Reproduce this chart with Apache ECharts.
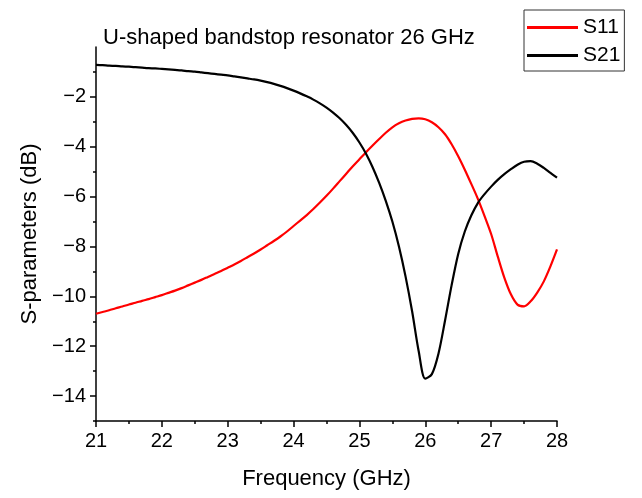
<!DOCTYPE html>
<html><head><meta charset="utf-8">
<script src="https://cdn.jsdelivr.net/npm/echarts@6/dist/echarts.min.js"></script>
<style>html,body{margin:0;padding:0;background:#fff}#c{width:642px;height:498px}</style>
</head><body><div id="c"></div>
<script>
const freq = [21.0,21.1,21.2,21.3,21.4,21.5,21.6,21.7,21.8,21.9,
  22.0,22.1,22.2,22.3,22.4,22.5,22.6,22.7,22.8,22.9,
  23.0,23.1,23.2,23.3,23.4,23.5,23.6,23.7,23.8,23.9,
  24.0,24.1,24.2,24.3,24.4,24.5,24.6,24.7,24.8,24.9,
  25.0,25.1,25.2,25.3,25.4,25.5,25.6,25.7,25.8,25.9,
  26.0,26.1,26.2,26.3,26.4,26.5,26.6,26.7,26.8,26.9,
  27.0,27.1,27.2,27.3,27.4,27.5,27.6,27.7,27.8,27.9,28.0];
const s11 = [-10.7,-10.63,-10.56,-10.48,-10.41,-10.33,-10.26,-10.18,-10.11,-10.03,
  -9.95,-9.86,-9.77,-9.67,-9.56,-9.45,-9.34,-9.22,-9.1,-8.98,
  -8.85,-8.72,-8.58,-8.43,-8.28,-8.12,-7.95,-7.78,-7.6,-7.4,
  -7.18,-6.96,-6.74,-6.5,-6.24,-5.97,-5.68,-5.38,-5.08,-4.78,
  -4.5,-4.22,-3.95,-3.69,-3.44,-3.22,-3.06,-2.95,-2.88,-2.86,
  -2.9,-3.02,-3.22,-3.5,-3.9,-4.38,-4.92,-5.5,-6.1,-6.78,
  -7.5,-8.4,-9.25,-9.92,-10.33,-10.4,-10.2,-9.85,-9.4,-8.8,-8.12];
const s21 = [-0.72,-0.73,-0.75,-0.76,-0.78,-0.79,-0.81,-0.83,-0.85,-0.86,
  -0.88,-0.9,-0.92,-0.94,-0.97,-0.99,-1.02,-1.05,-1.08,-1.11,
  -1.14,-1.18,-1.22,-1.26,-1.3,-1.35,-1.41,-1.48,-1.56,-1.65,
  -1.75,-1.86,-1.98,-2.11,-2.26,-2.43,-2.63,-2.86,-3.13,-3.45,
  -3.83,-4.28,-4.82,-5.45,-6.17,-7.0,-8.0,-9.2,-10.6,-12.2,
  -13.3,-13.12,-12.3,-10.97,-9.55,-8.3,-7.4,-6.75,-6.25,-5.9,
  -5.6,-5.33,-5.1,-4.9,-4.72,-4.6,-4.58,-4.68,-4.85,-5.05,-5.24];
const yMajor = [-14,-12,-10,-8,-6,-4,-2];
const yMinor = [-15,-13,-11,-9,-7,-5,-3,-1];
const seriesNames = ['S11','S21'];
const titleText = 'U-shaped bandstop resonator 26 GHz';
const xName = 'Frequency (GHz)';
const yName = 'S-parameters (dB)';

const font = 'Liberation Sans, Arial, sans-serif';
const chart = echarts.init(document.getElementById('c'), null, {renderer:'canvas'});
const pair = (ys) => freq.map((f,i)=>[f, ys[i]]);
chart.setOption({
  animation:false,
  backgroundColor:'#fff',
  title:{text:titleText, left:103, top:27, padding:0,
    textStyle:{fontFamily:font, fontSize:22, fontWeight:'normal', color:'#000'}},
  legend:{orient:'vertical', left:524, top:10, padding:[7,4,5,3], itemGap:7,
    borderColor:'#333', borderWidth:1, itemWidth:51, itemHeight:3,
    icon:'rect',
    textStyle:{fontFamily:font, fontSize:21, color:'#000'},
    data:seriesNames},
  grid:{left:96, right:85, top:47, bottom:77},
  xAxis:{type:'value', min:21, max:28, interval:1,
    name:xName, nameLocation:'middle', nameGap:47,
    nameTextStyle:{fontFamily:font, fontSize:22, color:'#000'},
    axisLine:{show:true, onZero:false, lineStyle:{color:'#000', width:1.5}},
    axisTick:{show:true, length:6, lineStyle:{color:'#000', width:1.5}},
    minorTick:{show:true, splitNumber:2, length:3, lineStyle:{color:'#000', width:1.5}},
    axisLabel:{fontFamily:font, fontSize:20, color:'#000', margin:10},
    splitLine:{show:false}},
  yAxis:[{type:'value', min:-15, max:0, interval:1,
    name:yName, nameLocation:'middle', nameGap:55,
    nameTextStyle:{fontFamily:font, fontSize:22, color:'#000'},
    axisLine:{show:true, onZero:false, lineStyle:{color:'#000', width:1.5}},
    axisTick:{show:true, length:6, customValues:yMajor, lineStyle:{color:'#000', width:1.5}},
    axisLabel:{fontFamily:font, fontSize:20, color:'#000', margin:10, customValues:yMajor,
      formatter:(v)=>String(v).replace('-','\u2212')},
    splitLine:{show:false}},
   {type:'value', min:-15, max:0, interval:1, position:'left',
    axisLine:{show:false},
    axisTick:{show:true, length:3, customValues:yMinor, lineStyle:{color:'#000', width:1.5}},
    axisLabel:{show:false}, splitLine:{show:false}}],
  series:[
    {name:seriesNames[0], type:'line', data:pair(s11), smooth:0.3, showSymbol:false,
     lineStyle:{color:'#ff0000', width:2.2}, itemStyle:{color:'#ff0000'}},
    {name:seriesNames[1], type:'line', data:pair(s21), smooth:0.3, showSymbol:false,
     lineStyle:{color:'#000', width:2.2}, itemStyle:{color:'#000'}}
  ]
});
</script></body></html>
